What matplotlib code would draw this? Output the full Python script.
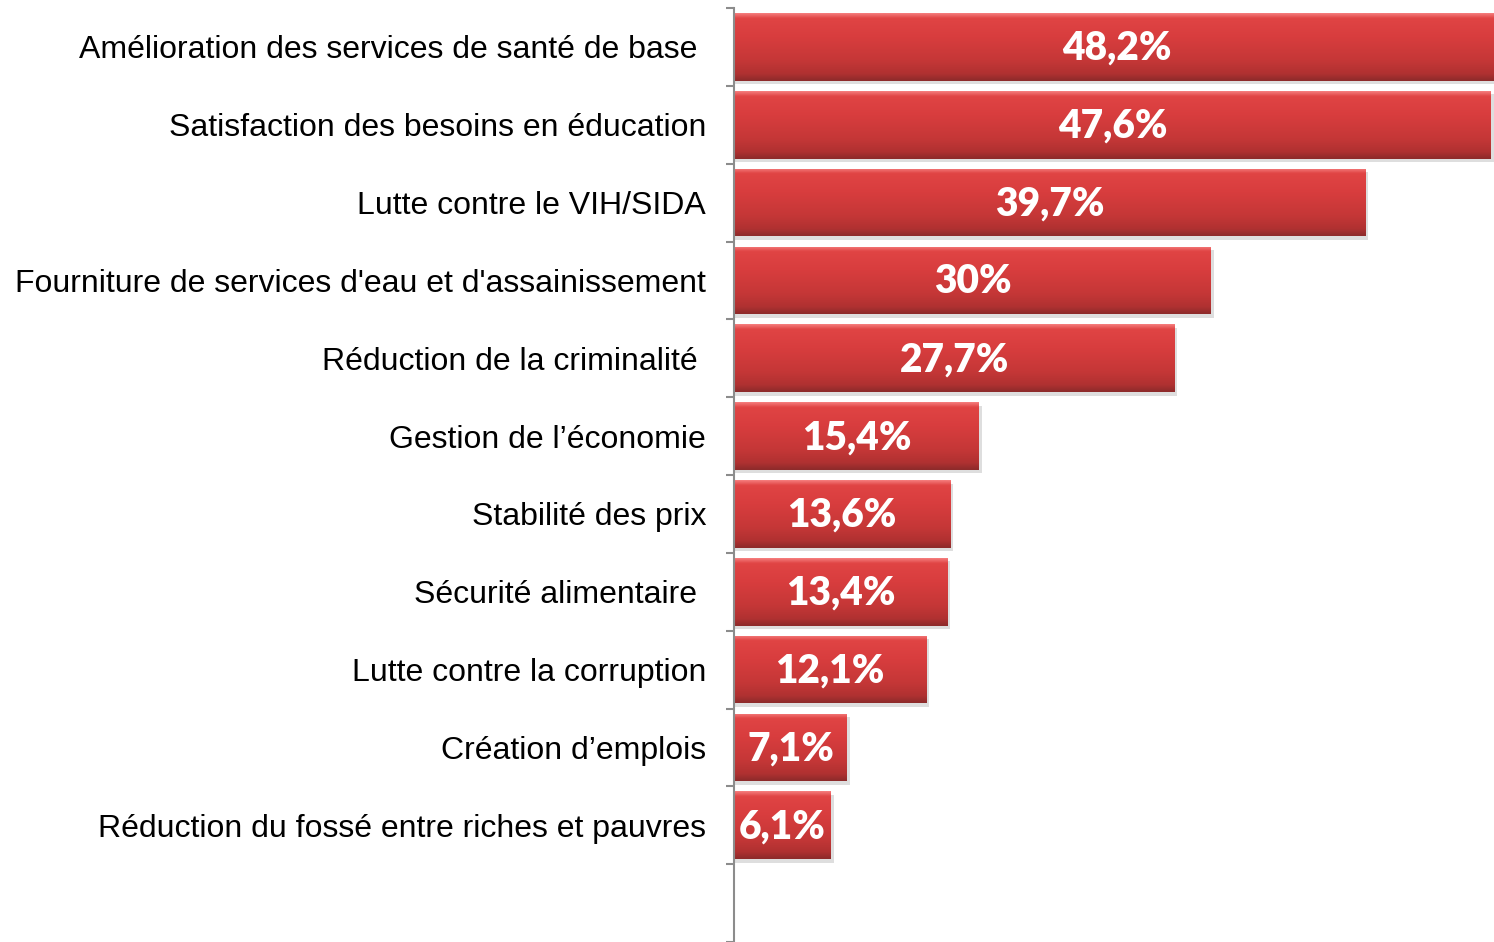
import matplotlib as mpl
mpl.use('Agg')
import matplotlib.pyplot as plt
import matplotlib.colors as mcolors
from matplotlib.ticker import FixedLocator
import numpy as np

categories = [
    "Amélioration des services de santé de base ",
    "Satisfaction des besoins en éducation",
    "Lutte contre le VIH/SIDA",
    "Fourniture de services d'eau et d'assainissement",
    "Réduction de la criminalité ",
    "Gestion de l\u2019économie",
    "Stabilité des prix",
    "Sécurité alimentaire ",
    "Lutte contre la corruption",
    "Création d\u2019emplois",
    "Réduction du fossé entre riches et pauvres",
]
values = [48.2, 47.6, 39.7, 30.0, 27.7, 15.4, 13.6, 13.4, 12.1, 7.1, 6.1]
value_labels = ["48,2%", "47,6%", "39,7%", "30%", "27,7%", "15,4%",
                "13,6%", "13,4%", "12,1%", "7,1%", "6,1%"]

n_slots = len(categories) + 1  # one empty slot at the bottom

fig = plt.figure(figsize=(14.94, 9.42), dpi=100)
ax = fig.add_axes([734 / 1494, 0, 1 - 734 / 1494, 1 - 8 / 942])

bar_h = 0.87
y = np.arange(len(categories))

# vertical gradient used to fill every bar (top light -> bottom dark)
grad_cmap = mcolors.LinearSegmentedColormap.from_list(
    'bar', [(0.0, '#f47a7a'), (0.07, '#e04444'), (0.35, '#d83d3e'),
            (0.7, '#c53737'), (0.9, '#b03131'), (1.0, '#8e2b2b')])
grad = np.linspace(0, 1, 64).reshape(-1, 1)

for yi, v in zip(y, values):
    # soft shadow below / right of the bar
    ax.barh(yi + 0.045, v + 0.12, height=bar_h, left=0.05, color='#c8c8c8',
            alpha=0.6, zorder=1, linewidth=0)
    bar = ax.barh(yi, v, height=bar_h, color='#d63c3c', zorder=2,
                  linewidth=0)[0]
    im = ax.imshow(grad, cmap=grad_cmap, aspect='auto', zorder=3,
                   extent=(0, v, yi + bar_h / 2, yi - bar_h / 2),
                   interpolation='bilinear')
    im.set_clip_path(bar)

for yi, v, lab in zip(y, values, value_labels):
    ax.text(v / 2, yi + 0.02, lab, ha='center', va='center', color='white',
            fontsize=28, fontweight='heavy', family=['Lato', 'DejaVu Sans'],
            zorder=5)

ax.set_xlim(0, 47.8)
ax.set_ylim(n_slots - 0.5, -0.5)

ax.set_yticks(y)
ax.set_yticklabels(categories, family=['Liberation Sans', 'DejaVu Sans'],
                   fontsize=23)
ax.yaxis.set_minor_locator(FixedLocator(np.arange(n_slots + 1) - 0.5))
ax.tick_params(axis='y', which='major', length=0, pad=20)
ax.tick_params(axis='y', which='minor', length=6, width=1.5, color='#8c8c8c')
ax.set_xticks([])

for s in ['top', 'right', 'bottom']:
    ax.spines[s].set_visible(False)
ax.spines['left'].set_color('#8c8c8c')
ax.spines['left'].set_linewidth(1.5)
ax.spines['left'].set_zorder(6)

fig.savefig('out.png', dpi=100)
